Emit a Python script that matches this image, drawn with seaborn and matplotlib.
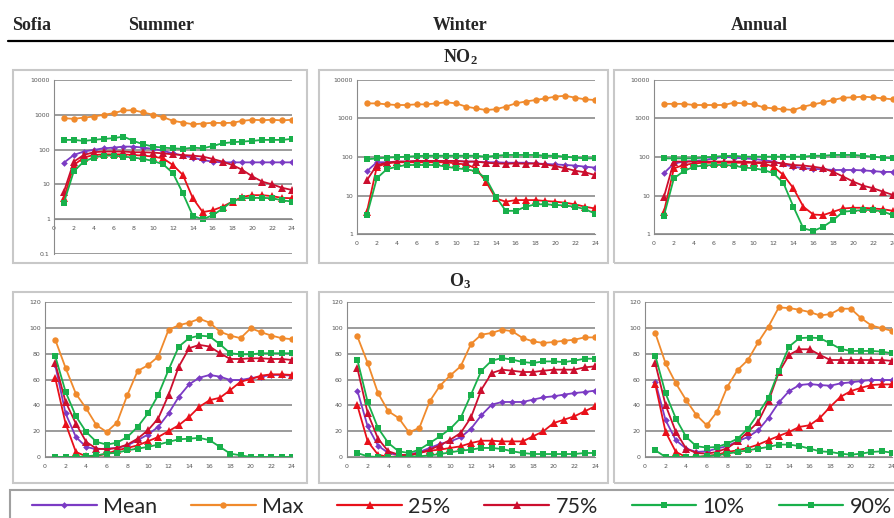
import numpy as np
import pandas as pd
import matplotlib
matplotlib.use('Agg')
import matplotlib.pyplot as plt
from matplotlib.lines import Line2D
from matplotlib.patches import Rectangle
from matplotlib.ticker import FixedLocator, FuncFormatter, NullLocator
import seaborn as sns

sns.set_style('white')
plt.rcParams['mathtext.fontset'] = 'custom'
plt.rcParams['mathtext.bf'] = 'Liberation Serif:bold'
plt.rcParams['mathtext.rm'] = 'Liberation Serif:bold'

hours = list(range(1, 25))
series = ['Mean', 'Max', '25%', '75%', '10%', '90%']
colors = {'Mean': '#7B3BC4', 'Max': '#F08A2C', '25%': '#E8101A',
          '75%': '#CC0E2E', '10%': '#19B04B', '90%': '#19B04B'}
markers = {'Mean': 'D', 'Max': 'o', '25%': '^', '75%': '^', '10%': 's', '90%': 's'}
msize = {'D': 3.4, 'o': 4.6, '^': 5.2, 's': 4.8}

# NO2 summer
no2_sum_mean = [42, 70, 88, 98, 109, 114, 122, 122, 114, 105, 92, 78, 67, 59, 50, 45, 43, 43, 43, 43, 43, 43, 43, 43]
no2_sum_max = [800, 765, 830, 890, 1000, 1110, 1330, 1360, 1170, 1000, 855, 670, 600, 535, 560, 590, 580, 590, 670, 720, 700, 720, 690, 720]
no2_sum_p25 = [4.0, 36, 59, 70, 73, 73, 73, 70, 67, 63, 56, 36, 18.6, 4.0, 1.6, 1.8, 2.3, 3.2, 4.4, 4.9, 4.9, 4.6, 4.1, 4.0]
no2_sum_p75 = [6.2, 45, 70, 84, 88, 88, 88, 84, 84, 82, 78, 73, 70, 67, 63, 54, 45, 36, 26, 17, 12, 10, 8, 6.9]
no2_sum_p10 = [3.0, 24, 45, 59, 67, 67, 63, 59, 54, 47, 38, 21, 5.5, 1.25, 1.0, 1.3, 2.0, 3.3, 4.0, 4.1, 4.1, 4.0, 3.5, 3.2]
no2_sum_p90 = [190, 190, 178, 190, 203, 213, 237, 178, 142, 122, 114, 109, 105, 114, 109, 127, 152, 163, 170, 178, 190, 190, 190, 203]

# NO2 winter
no2_win_mean = [43, 73, 73, 76, 76, 79, 79, 79, 79, 79, 76, 76, 73, 73, 71, 71, 71, 68, 66, 64, 62, 60, 56, 53]
no2_win_max = [2470, 2470, 2330, 2240, 2240, 2330, 2330, 2470, 2640, 2470, 2030, 1830, 1660, 1740, 2030, 2470, 2760, 3020, 3330, 3700, 3900, 3470, 3150, 3020]
no2_win_p25 = [3.8, 56, 68, 73, 73, 73, 73, 73, 73, 68, 64, 51, 23, 8.4, 6.9, 7.6, 7.6, 7.6, 7.2, 6.9, 6.5, 5.9, 5.1, 4.6]
no2_win_p75 = [25, 62, 71, 76, 76, 79, 79, 79, 79, 79, 76, 76, 71, 68, 67, 68, 67, 68, 64, 58, 51, 44, 40, 34]
no2_win_p10 = [3.1, 28, 48, 56, 62, 62, 62, 62, 56, 51, 48, 43, 28, 9.3, 4.0, 4.0, 5.1, 5.9, 5.9, 5.7, 5.5, 5.1, 4.4, 3.4]
no2_win_p90 = [87, 92, 96, 99, 102, 106, 108, 108, 108, 108, 108, 108, 102, 108, 113, 113, 113, 113, 108, 108, 102, 96, 92, 92]

# NO2 annual
no2_ann_mean = [38, 68, 76, 79, 83, 92, 102, 96, 92, 89, 83, 76, 64, 56, 51, 49, 48, 46, 46, 46, 45, 43, 41, 41]
no2_ann_max = [2400, 2400, 2400, 2240, 2240, 2240, 2240, 2570, 2470, 2330, 1950, 1830, 1740, 1660, 2030, 2330, 2640, 3020, 3470, 3540, 3700, 3540, 3330, 3150]
no2_ann_p25 = [3.8, 51, 62, 68, 71, 71, 71, 71, 71, 71, 68, 56, 34, 15.4, 5.1, 3.2, 3.1, 3.8, 4.6, 4.8, 4.8, 4.6, 4.4, 4.0]
no2_ann_p75 = [9.3, 76, 76, 76, 76, 76, 76, 76, 76, 73, 73, 73, 68, 62, 60, 56, 51, 41, 31, 23, 18, 15.4, 12.6, 10.3]
no2_ann_p10 = [3.0, 28, 43, 56, 60, 62, 62, 60, 53, 51, 46, 38, 21, 5.1, 1.4, 1.2, 1.55, 2.3, 3.8, 4.0, 4.2, 4.2, 3.8, 3.1]
no2_ann_p90 = [92, 92, 92, 92, 96, 102, 106, 108, 102, 102, 102, 102, 102, 102, 102, 108, 108, 113, 113, 113, 108, 102, 96, 92]

# O3 summer
o3_sum_mean = [71, 33.7, 15.5, 7.8, 6, 6.5, 7, 9, 13, 17.4, 23.3, 33.7, 46.6, 56.2, 61.4, 63.5, 62.2, 59.6, 59.6, 61, 62.2, 63.5, 63.5, 63]
o3_sum_max = [90.7, 69, 49, 37.6, 24.6, 19.4, 26.7, 48, 66.6, 71, 77.7, 98.4, 102, 104, 107, 104, 97, 94, 92, 99.7, 96.6, 94, 92, 91.2]
o3_sum_p25 = [61, 25.9, 3.9, 0.5, 0.8, 2.6, 5.2, 7, 9, 12.2, 15.5, 20, 24.6, 31, 38.9, 44, 45.9, 51.8, 58.3, 60.4, 63, 64, 64, 63.5]
o3_sum_p75 = [72.5, 42.7, 25.9, 11.7, 6.5, 6, 7, 9.6, 14.2, 20.7, 29.8, 48, 70, 84.2, 86.8, 85.5, 80.3, 75.9, 75.9, 76.4, 76.4, 75.9, 75.9, 75.1]
o3_sum_p10 = [0, 0, 0, 0.5, 1.3, 2.6, 3.4, 5.2, 6.5, 7.8, 9.6, 11.7, 13.7, 14.2, 14.8, 13, 7.8, 2.6, 1.3, 0, 0, 0, 0, 0]
o3_sum_p90 = [78, 50.5, 31.6, 19.4, 11.7, 9.6, 11.1, 15.5, 23.3, 33.7, 48, 67.4, 85.5, 92, 94, 93.3, 87.3, 80.3, 79.5, 79.5, 80.3, 80.3, 80.3, 80.3]

# O3 winter
o3_win_mean = [51.4, 23.7, 8.8, 3.1, 1.3, 1.8, 3.9, 7, 10.1, 12.1, 15.2, 21.9, 32.3, 40.5, 42.6, 42.6, 42.6, 44.4, 46.2, 47, 48.3, 49.5, 50.3, 51.4]
o3_win_max = [93.4, 72.8, 49.5, 35.4, 30.2, 19.1, 22.5, 43.1, 55.2, 63.2, 70.2, 87.5, 94.7, 96, 98.6, 97.3, 92.1, 89.5, 88.3, 89, 90, 90.8, 92.6, 92.6]
o3_win_p25 = [40, 12.1, 1.8, 0, 0.5, 1.3, 3.1, 4.9, 5.7, 7, 8.3, 10.8, 12.6, 12.6, 12.1, 12.1, 12.1, 16, 19.9, 26.3, 28.9, 31.5, 35.4, 39.2]
o3_win_p75 = [68.9, 34, 14.2, 4.4, 1.8, 1.3, 3.1, 5.7, 9, 13.4, 18.6, 30.7, 52.1, 65, 67.6, 66.8, 65.8, 65.8, 66.8, 67.6, 67.6, 67.6, 69.4, 70.2]
o3_win_p10 = [3.1, 0.5, 0, 0, 0, 0.5, 0.5, 1.3, 2.3, 3.6, 4.9, 5.7, 7, 7, 6.2, 4.4, 3.1, 2.3, 2.3, 2.3, 2.3, 2.3, 3.1, 3.1]
o3_win_p90 = [75.4, 42.6, 22.5, 10.8, 4.4, 3.1, 5.7, 10.8, 16, 21.9, 30.2, 48.3, 66.8, 74.6, 76.6, 75.4, 73.5, 72.8, 74, 74, 73.5, 74.6, 76.1, 76.1]

# O3 annual
o3_ann_mean = [58.3, 28.5, 13, 6.5, 3.9, 4.4, 6.5, 8.5, 12.2, 15.5, 20.7, 30.3, 42.2, 51, 55.7, 56.5, 55.7, 55.2, 57, 57.8, 58.8, 59.6, 59.6, 59.6]
o3_ann_max = [95.9, 72.5, 57, 44, 32.4, 24.6, 35, 54.4, 67.4, 75.1, 88.9, 101, 115.8, 115.3, 114, 112.2, 109.6, 110.6, 114.8, 114.8, 107.5, 101.8, 99.7, 97.7]
o3_ann_p25 = [56.2, 19.4, 3.9, 0, 0, 0.8, 1.8, 3.9, 5.2, 7, 9.6, 13, 16.3, 19.4, 23.3, 24.6, 30.3, 38.9, 46.6, 51, 53.6, 55.7, 56.2, 56.2]
o3_ann_p75 = [72.5, 40.2, 19.4, 6.5, 3.1, 2.6, 3.9, 7, 12.2, 19.4, 27.2, 43.3, 65.5, 79, 83.4, 83.4, 79, 75.1, 75.1, 75.1, 75.1, 75.1, 75.1, 74.4]
o3_ann_p10 = [5.2, 0, 0, 0, 0, 0.8, 1.3, 2.6, 3.9, 5.2, 6.5, 7.8, 9.6, 9.6, 8.5, 6.5, 4.4, 3.9, 2.6, 1.8, 2.6, 3.9, 4.4, 3.4]
o3_ann_p90 = [78.5, 49.2, 29.8, 15.5, 8.3, 7.3, 7.8, 10.4, 14.2, 22, 33.7, 45.9, 66.6, 85.5, 92, 92.5, 92, 88, 83.7, 82.1, 82.1, 82.1, 81.6, 80.3]

no2_ticks = [0.1, 1, 10, 100, 1000, 10000]
o3_ticks = [0, 20, 40, 60, 80, 100, 120]
hour_ticks = list(range(0, 25, 2))

W, H = 894, 518
fig = plt.figure(figsize=(W / 100, H / 100), dpi=100)


def frac(x0, x1, y0, y1):
    return [x0 / W, 1 - y1 / H, (x1 - x0) / W, (y1 - y0) / H]


def long_df(mean, mx, p25, p75, p10, p90):
    cols = dict(zip(series, [mean, mx, p25, p75, p10, p90]))
    rows = []
    for s in series:
        for h, v in zip(hours, cols[s]):
            rows.append((h, v, s))
    return pd.DataFrame(rows, columns=['hour', 'value', 'series'])


def panel(box, area, df, log, ylim, yticks, cross):
    fig.add_artist(Rectangle((box[0] / W, 1 - box[3] / H), (box[1] - box[0]) / W,
                             (box[3] - box[2]) / H, transform=fig.transFigure,
                             fill=False, edgecolor='#c8c8c8', lw=1.5))
    ax = fig.add_axes(frac(*area))
    ax.set_facecolor('none')
    sns.lineplot(data=df, x='hour', y='value', hue='series', style='series',
                 hue_order=series, style_order=series, palette=colors,
                 markers=markers, dashes=False, markersize=4.8,
                 markeredgewidth=0, linewidth=1.3, legend=False, ax=ax)
    for ln in ax.lines:
        m = ln.get_marker()
        if isinstance(m, str) and m in msize:
            ln.set_markersize(msize[m])
    if log:
        ax.set_yscale('log')
        ax.yaxis.set_minor_locator(NullLocator())
    ax.set_ylim(*ylim)
    ax.set_xlim(0, 24)
    ax.yaxis.set_major_locator(FixedLocator(yticks))
    ax.yaxis.set_major_formatter(FuncFormatter(lambda v, p: f'{v:g}'))
    ax.xaxis.set_major_locator(FixedLocator(hour_ticks))
    ax.grid(axis='y', color='#8a8a8a', lw=1.2)
    ax.grid(axis='x', visible=False)
    for sp in ['top', 'right']:
        ax.spines[sp].set_visible(False)
    ax.spines['left'].set_color('#8a8a8a')
    ax.spines['bottom'].set_color('#8a8a8a')
    ax.spines['bottom'].set_position(('data', cross))
    ax.tick_params(axis='both', labelsize=4.5, labelcolor='#555555', length=2,
                   color='#8a8a8a', pad=3)
    ax.tick_params(axis='y', length=0)
    ax.set_xlabel('')
    ax.set_ylabel('')
    return ax


no2_sets = [
    (no2_sum_mean, no2_sum_max, no2_sum_p25, no2_sum_p75, no2_sum_p10, no2_sum_p90),
    (no2_win_mean, no2_win_max, no2_win_p25, no2_win_p75, no2_win_p10, no2_win_p90),
    (no2_ann_mean, no2_ann_max, no2_ann_p25, no2_ann_p75, no2_ann_p10, no2_ann_p90),
]
o3_sets = [
    (o3_sum_mean, o3_sum_max, o3_sum_p25, o3_sum_p75, o3_sum_p10, o3_sum_p90),
    (o3_win_mean, o3_win_max, o3_win_p25, o3_win_p75, o3_win_p10, o3_win_p90),
    (o3_ann_mean, o3_ann_max, o3_ann_p25, o3_ann_p75, o3_ann_p10, o3_ann_p90),
]

# NO2 row
panel((13, 307, 70, 263), (54, 292, 80, 254), long_df(*no2_sets[0]), True,
      (0.1, 10000), no2_ticks, 1)
panel((319, 608, 70, 263), (357, 595, 80, 234), long_df(*no2_sets[1]), True,
      (1, 10000), no2_ticks[1:], 1)
panel((614, 905, 70, 263), (654, 893, 80, 234), long_df(*no2_sets[2]), True,
      (1, 10000), no2_ticks[1:], 1)

# O3 row
panel((13, 307, 292, 483), (45, 292, 302, 457), long_df(*o3_sets[0]), False,
      (0, 120), o3_ticks, 0)
panel((319, 608, 292, 483), (347, 595, 302, 457), long_df(*o3_sets[1]), False,
      (0, 120), o3_ticks, 0)
panel((614, 905, 292, 483), (645, 892, 302, 457), long_df(*o3_sets[2]), False,
      (0, 120), o3_ticks, 0)

# headers
serif = 'Liberation Serif'
fig.text(12 / W, 1 - 26 / H, 'Sofia', family=serif, weight='bold', fontsize=13, va='center')
for label, cx in [('Summer', 161), ('Winter', 460), ('Annual', 759)]:
    fig.text(cx / W, 1 - 26 / H, label, family=serif, weight='bold', fontsize=13,
             ha='center', va='center')
fig.add_artist(Line2D([8 / W, 1], [1 - 41 / H, 1 - 41 / H], transform=fig.transFigure,
                      color='black', lw=1.6))
fig.text(460 / W, 1 - 57 / H, r'$\mathbf{NO_2}$', fontsize=13, ha='center', va='center')
fig.text(460 / W, 1 - 281 / H, r'$\mathbf{O_3}$', fontsize=13, ha='center', va='center')

# legend
fig.add_artist(Rectangle((10 / W, 1 - 530 / H), 900 / W, 40 / H, transform=fig.transFigure,
                         fill=False, edgecolor='#a0a0a0', lw=1.5))
handles = [Line2D([0], [0], color=colors[s], marker=markers[s], markersize=msize[markers[s]],
                  markeredgewidth=0, lw=1.6) for s in series]
fig.legend(handles, series, loc='center left', ncol=6, frameon=False, mode='expand',
           bbox_to_anchor=(32 / W, 1 - 507 / H, 860 / W, 0.001),
           prop={'family': 'Lato', 'size': 15.5}, handlelength=3.0, handletextpad=0.3,
           borderaxespad=0, borderpad=0)

fig.savefig('out.png', dpi=100)
